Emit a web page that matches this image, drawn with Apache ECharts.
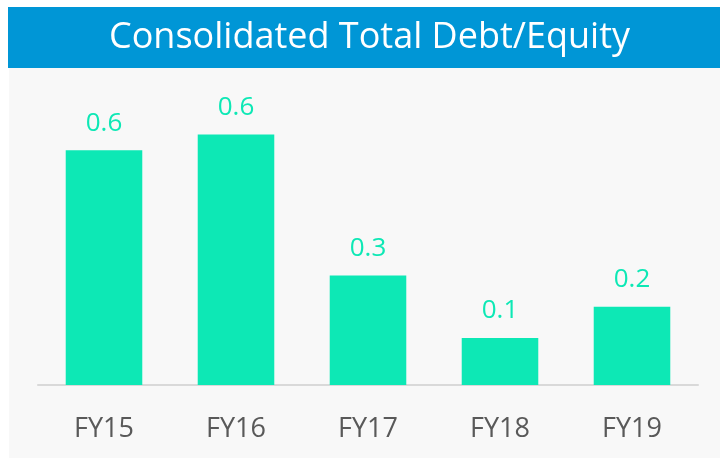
<!DOCTYPE html>
<html>
<head>
<meta charset="utf-8">
<script src="https://cdn.jsdelivr.net/npm/echarts@6/dist/echarts.min.js"></script>
<style>
  html, body { margin: 0; padding: 0; background: #ffffff; }
  #chart { width: 720px; height: 458px; }
</style>
</head>
<body>
<div id="chart"></div>
<script>
var titleText = 'Consolidated Total Debt/Equity';
var years = ['FY15', 'FY16', 'FY17', 'FY18', 'FY19'];
var debtEquity = [0.60, 0.64, 0.28, 0.12, 0.20];

var myChart = echarts.init(document.getElementById('chart'), null, { renderer: 'canvas' });
var font = '"Open Sans", "Noto Sans", sans-serif';

var option = {
    animation: false,
    graphic: [
        {
            type: 'rect',
            z: -10,
            shape: { x: 9, y: 68, width: 711, height: 390 },
            style: { fill: '#f8f8f8' }
        },
        {
            type: 'rect',
            z: -10,
            shape: { x: 8, y: 7, width: 712, height: 61 },
            style: { fill: '#0096d6' }
        },
        {
            type: 'text',
            left: 109,
            top: 20,
            style: {
                text: titleText,
                fill: '#ffffff',
                font: '36px ' + font
            }
        }
    ],
    grid: {
        left: 38,
        right: 22,
        top: 72,
        bottom: 73
    },
    xAxis: {
        type: 'category',
        data: years,
        axisTick: { show: false },
        axisLine: { lineStyle: { color: '#d9d9d9', width: 2 } },
        axisLabel: {
            color: '#595959',
            fontSize: 27,
            fontFamily: font,
            margin: 31
        }
    },
    yAxis: {
        type: 'value',
        min: 0,
        max: 0.8,
        show: false,
        splitLine: { show: false }
    },
    series: [
        {
            type: 'bar',
            data: debtEquity,
            barCategoryGap: '42%',
            itemStyle: { color: '#0de8b5' },
            label: {
                show: true,
                position: 'top',
                distance: 14,
                color: '#0de8b5',
                fontSize: 26,
                fontFamily: font,
                formatter: function (p) { return p.value.toFixed(1); }
            }
        }
    ]
};
myChart.setOption(option);
</script>
</body>
</html>
